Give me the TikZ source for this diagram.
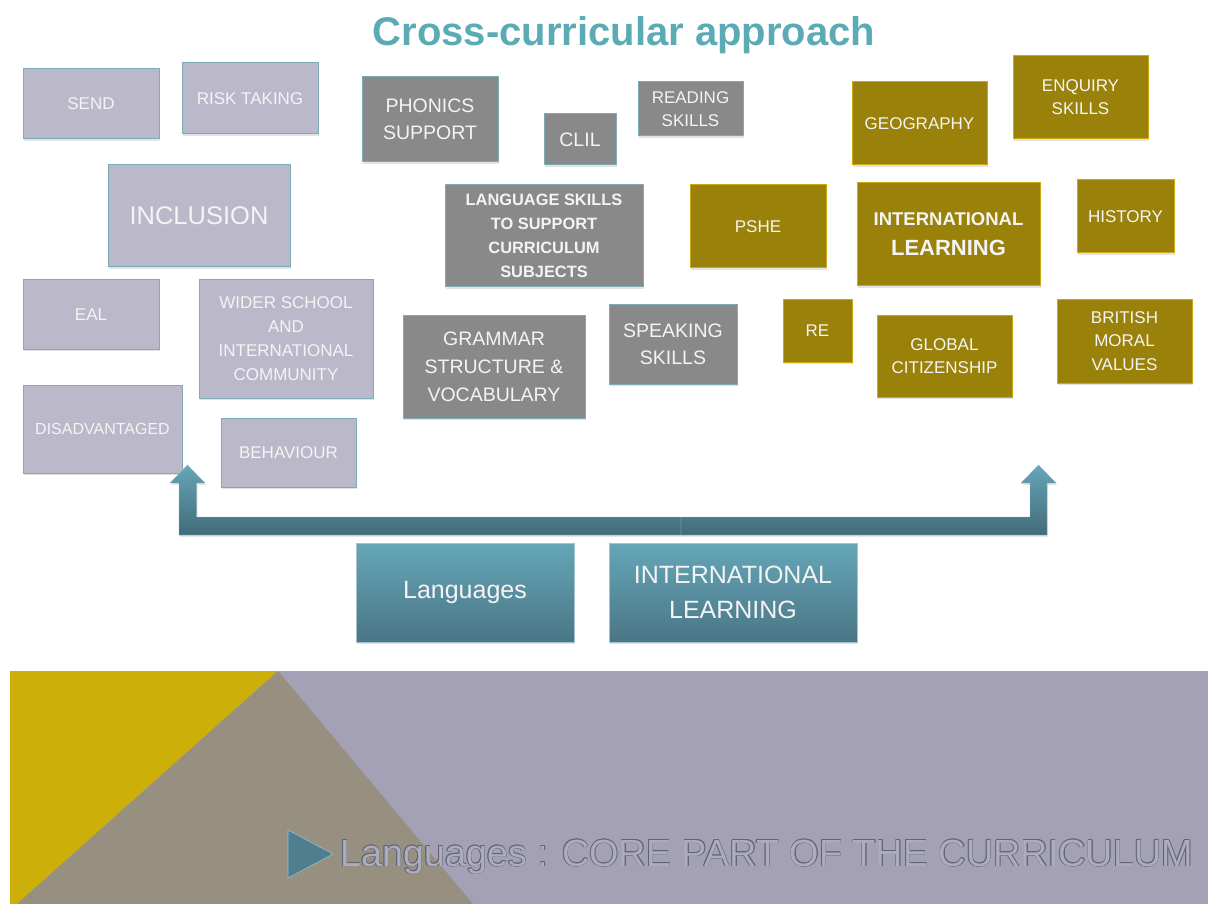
\documentclass[tikz,border=0pt]{standalone}
\usepackage{fontspec}
\setmainfont{Liberation Sans}
\usetikzlibrary{shadows}
\definecolor{lavcol}{HTML}{BBB8C9}
\definecolor{greycol}{HTML}{898989}
\definecolor{olivecol}{HTML}{9A820A}
\definecolor{olivebord}{HTML}{C9AA12}
\definecolor{bordcol}{HTML}{7FAABA}
\definecolor{boxtext}{HTML}{F4F4F4}
\definecolor{titlecol}{HTML}{5AABB4}
\definecolor{tealtop}{HTML}{65A6B8}
\definecolor{tealbot}{HTML}{4A7686}
\definecolor{banlav}{HTML}{A4A0B5}
\definecolor{banyel}{HTML}{CDAF0A}
\definecolor{banbeige}{HTML}{978F80}
\definecolor{marker}{HTML}{4F7F8F}
\definecolor{bantext}{HTML}{ACACBC}
\definecolor{banout}{HTML}{606676}
\tikzset{
  box/.style={rectangle, draw=bordcol, line width=1pt, inner sep=0pt, text=boxtext,
    align=center, font=\fontsize{17}{23}\selectfont,
    drop shadow={opacity=0.22, shadow xshift=1pt, shadow yshift=-2pt}},
  lav/.style={box, fill=lavcol},
  grey/.style={box, fill=greycol, font=\fontsize{19.5}{27}\selectfont},
  olive/.style={box, fill=olivecol, draw=olivebord},
  teal/.style={box, top color=tealtop, bottom color=tealbot, draw=bordcol!70!white,
    font=\fontsize{25}{35}\selectfont},
  bannerfont/.style={anchor=base west, inner sep=0pt, font=\fontsize{37.8}{40}\selectfont},
}
\begin{document}
\begin{tikzpicture}[x=1pt, y=-1pt]
\useasboundingbox (0,0) rectangle (1208,904);
% title
\node[text=titlecol, font=\fontsize{40}{44}\selectfont\bfseries] (title) at (624,35) {Cross-curricular approach};
% lavender group
\node[lav, minimum width=136pt, minimum height=70pt] (send) at (91,104) {SEND};
\node[lav, minimum width=136pt, minimum height=71pt] (risk) at (250,98.5) {RISK TAKING};
\node[lav, minimum width=182pt, minimum height=102pt, font=\fontsize{25.5}{30}\selectfont] (incl) at (199,216) {INCLUSION};
\node[lav, minimum width=136pt, minimum height=69pt] (eal) at (91,314.5) {EAL};
\node[lav, minimum width=174pt, minimum height=118pt, font=\fontsize{17}{24}\selectfont] (wider) at (286,339) {WIDER SCHOOL\\AND\\INTERNATIONAL\\COMMUNITY};
\node[lav, minimum width=159pt, minimum height=88pt, font=\fontsize{16}{20}\selectfont] (disadv) at (102.5,429) {DISADVANTAGED};
\node[lav, minimum width=135pt, minimum height=69pt] (behav) at (288.5,452.5) {BEHAVIOUR};
% grey group
\node[grey, minimum width=136pt, minimum height=85pt] (phon) at (430,119.5) {PHONICS\\SUPPORT};
\node[grey, minimum width=72pt, minimum height=51pt] (clil) at (580,139.5) {CLIL};
\node[grey, minimum width=105pt, minimum height=54pt, font=\fontsize{17}{23}\selectfont] (read) at (690.5,109) {READING\\SKILLS};
\node[grey, minimum width=198pt, minimum height=102pt, font=\fontsize{16.4}{24}\selectfont\bfseries] (langsk) at (544,236) {LANGUAGE SKILLS\\TO SUPPORT\\CURRICULUM\\SUBJECTS};
\node[grey, minimum width=182pt, minimum height=103pt, font=\fontsize{19.5}{28}\selectfont] (gram) at (494,366.5) {GRAMMAR\\STRUCTURE \&\\VOCABULARY};
\node[grey, minimum width=128pt, minimum height=80pt] (speak) at (673,344) {SPEAKING\\SKILLS};
% olive group
\node[olive, minimum width=135pt, minimum height=83pt] (geo) at (919.5,123.5) {GEOGRAPHY};
\node[olive, minimum width=135pt, minimum height=83pt] (enq) at (1080.5,97.5) {ENQUIRY\\SKILLS};
\node[olive, minimum width=136pt, minimum height=83pt] (pshe) at (758,226.5) {PSHE};
\node[olive, minimum width=183pt, minimum height=103pt, font=\bfseries\fontsize{18.5}{30}\selectfont] (intl) at (948.5,234.5) {INTERNATIONAL\\{\fontsize{22}{30}\selectfont LEARNING}};
\node[olive, minimum width=97pt, minimum height=73pt] (hist) at (1125.5,216.5) {HISTORY};
\node[olive, minimum width=69pt, minimum height=63pt] (re) at (817.5,330.5) {RE};
\node[olive, minimum width=135pt, minimum height=82pt] (glob) at (944.5,356) {GLOBAL\\CITIZENSHIP};
\node[olive, minimum width=135pt, minimum height=84pt, font=\fontsize{17}{23.5}\selectfont] (brit) at (1124.5,341) {BRITISH\\MORAL\\VALUES};
% arrows
\path[top color=tealtop, bottom color=tealbot!90!black, draw=tealtop!80!white, line width=0.4pt,
  drop shadow={opacity=0.2, shadow xshift=1pt, shadow yshift=-2pt}]
  (179,535) -- (179,483) -- (170,483) -- (187.5,465) -- (205,483) -- (196.5,483)
  -- (196.5,517) -- (681,517) -- (681,535) -- cycle;
\path[top color=tealtop, bottom color=tealbot!90!black, draw=tealtop!80!white, line width=0.4pt,
  drop shadow={opacity=0.2, shadow xshift=1pt, shadow yshift=-2pt}]
  (681,517) -- (1030,517) -- (1030,483) -- (1021,483) -- (1038.5,465) -- (1056,483)
  -- (1047,483) -- (1047,535) -- (681,535) -- cycle;
% teal boxes
\node[teal, minimum width=218pt, minimum height=99pt] (lang) at (465,592.5) {Languages};
\node[teal, minimum width=248pt, minimum height=99pt] (intlt) at (733,592.5) {INTERNATIONAL\\LEARNING};
% banner
\fill[banlav] (10,671) rectangle (1208,904);
\fill[banyel] (10,671) -- (278,671) -- (17,904) -- (10,904) -- cycle;
\fill[banbeige] (278,671) -- (17,904) -- (473,904) -- cycle;
\fill[marker, draw=tealtop!70!white, line width=0.6pt] (288,830) -- (333,854) -- (288,878) -- cycle;
\foreach \dx/\dy [count=\i] in {-0.6/0,0.6/0,0/-0.6,0/0.6,-0.45/-0.45,0.45/0.45,-0.45/0.45,0.45/-0.45} {
  \node[bannerfont, text=banout] (bo\i) at (340+\dx,866+\dy) {Languages : CORE PART OF THE CURRICULUM};
}
\node[bannerfont, text=bantext] (btext) at (340,866) {Languages : CORE PART OF THE CURRICULUM};
\end{tikzpicture}
\end{document}
